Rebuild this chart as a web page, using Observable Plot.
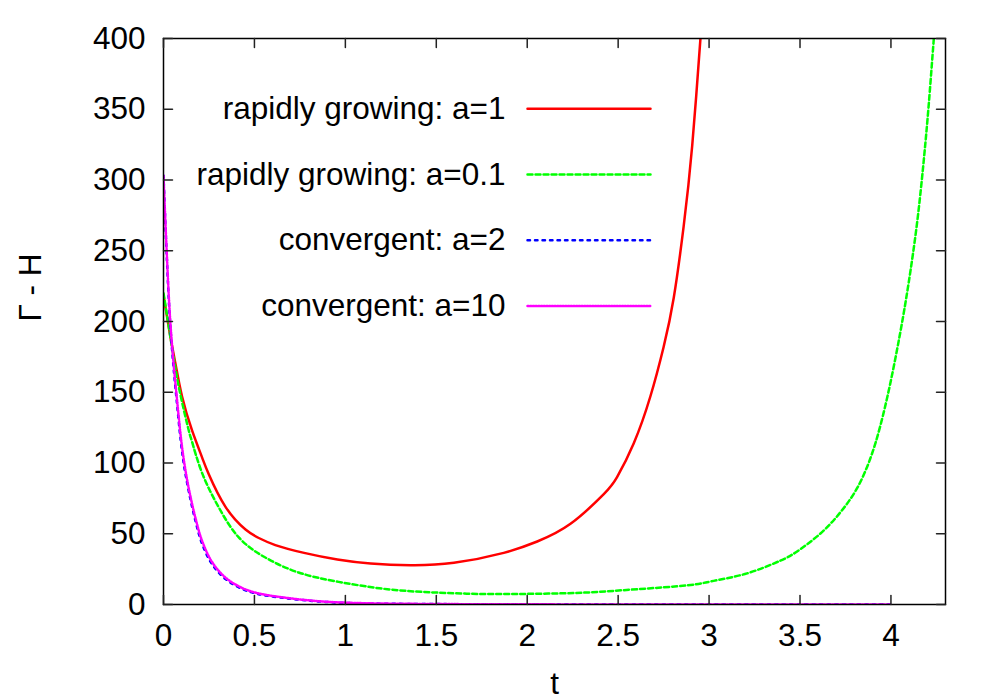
<!DOCTYPE html>
<html><head><meta charset="utf-8">
<script src="https://cdn.jsdelivr.net/npm/d3@7"></script>
<script src="https://cdn.jsdelivr.net/npm/@observablehq/plot@0.6"></script>
<style>body{margin:0;background:#fff;} #chart{width:1000px;height:700px;}</style>
</head><body><div id="chart"></div>
<script>
// ---- data ----
const seriesNames = ["rapidly growing: a=1", "rapidly growing: a=0.1", "convergent: a=2", "convergent: a=10"];
const seriesColors = ["#ff0000", "#00ff00", "#0000ff", "#ff00ff"];
const seriesDash = [null, "5,3", "2.5,5", "1.2,1.5"];
const seriesCurve = ["natural", "natural", "catmull-rom", "catmull-rom"];

const tRed = [0.002,0.038,0.066,0.102,0.157,0.212,0.249,0.341,0.451,0.524,0.615,0.773,0.956,1.139,1.359,1.597,1.871,2.055,2.238,2.421,2.494,2.586,2.677,2.75,2.806,2.86,2.907,2.952,2.98];
const yRed = [217,189,170,147,123,104,92,69,53,47,42,36.5,31.8,29,27.8,29.5,36.5,44.5,57,78,90,114,147,182,217,267,324,399,450];

const tGreen = [0,0.038,0.084,0.139,0.157,0.212,0.304,0.414,0.56,0.743,0.963,1.231,1.505,1.78,2.055,2.33,2.604,2.879,3.025,3.209,3.392,3.484,3.611,3.721,3.813,3.886,3.941,3.996,4.051,4.097,4.143,4.179,4.207,4.234,4.26];
const yGreen = [220,189,154,123,115,93,68.6,47.4,33.2,22.6,16,10.8,8.4,7.4,7.6,8.5,10.8,13.5,16.7,22,31,37.5,50,65,82,103,126,156,192,227,269,312,352,397,440];

const tBlue = [0,0.01,0.02,0.03,0.04,0.057,0.075,0.093,0.112,0.139,0.176,0.212,0.267,0.341,0.432,0.524,0.67,0.817,0.963,1.2,1.5,2,2.5,3,3.5,4];
const yBlue = [303,270,240,213,192,165,141,118,99,80,59,43,28.5,18,11,7.3,4.5,2.5,1.3,0.6,0.3,0.1,0.05,0.02,0.01,0.005];

const tMagenta = [0,0.01,0.02,0.03,0.04,0.057,0.075,0.093,0.112,0.139,0.176,0.212,0.267,0.341,0.432,0.524,0.67,0.817,0.963,1.2,1.5,2,2.5,3,3.5,4];
const yMagenta = [303,272,243,216,195,168,144,121,102,82,61,45,30,19,11.7,7.8,4.8,2.7,1.5,0.7,0.35,0.12,0.06,0.03,0.015,0.007];

const xTicks = [0,0.5,1,1.5,2,2.5,3,3.5,4];
const xTickLabels = ["0","0.5","1","1.5","2","2.5","3","3.5","4"];
const yTicks = [0,50,100,150,200,250,300,350,400];
const yTickLabels = ["0","50","100","150","200","250","300","350","400"];
const xLabel = "t";
const yLabel = "Γ - H";

// ---- build tidy rows ----
const seriesT = [tRed, tGreen, tBlue, tMagenta];
const seriesY = [yRed, yGreen, yBlue, yMagenta];
const rows = seriesT.map((ts, i) => ts.map((t, j) => ({t, v: seriesY[i][j], s: seriesNames[i]})));

const font = "Liberation Sans, Arial, Helvetica, sans-serif";
const fs = 31.5;
const lineShape = {draw(context, l) { context.moveTo(0, 0); context.lineTo(0, -l); }};
const tickStyle = {length: 9, anchor: "start", shape: lineShape, stroke: "#222", strokeWidth: 1.5};

const marks = [];
// curves
rows.forEach((r, i) => {
  marks.push(Plot.line(r, {x: "t", y: "v", stroke: seriesColors[i], strokeWidth: 2.5,
    strokeDasharray: seriesDash[i] ?? undefined, curve: seriesCurve[i], clip: true}));
});
// frame
marks.push(Plot.frame({stroke: "black", strokeWidth: 1.5}));
// inward ticks on all four sides
marks.push(Plot.vector(xTicks, {x: (d) => d, frameAnchor: "bottom", rotate: 0, ...tickStyle}));
marks.push(Plot.vector(xTicks, {x: (d) => d, frameAnchor: "top", rotate: 180, ...tickStyle}));
marks.push(Plot.vector(yTicks, {y: (d) => d, frameAnchor: "left", rotate: 90, ...tickStyle}));
marks.push(Plot.vector(yTicks, {y: (d) => d, frameAnchor: "right", rotate: 270, ...tickStyle}));
// tick labels
marks.push(Plot.axisX(xTicks, {anchor: "bottom", tickSize: 0, tickPadding: 19, label: null,
  tickFormat: (d) => xTickLabels[xTicks.indexOf(d)], fontSize: fs, fill: "black"}));
marks.push(Plot.axisY(yTicks, {anchor: "left", tickSize: 0, tickPadding: 18, label: null,
  tickFormat: (d) => yTickLabels[yTicks.indexOf(d)], fontSize: fs, fill: "black"}));
// axis titles
marks.push(Plot.text([xLabel], {text: (d) => d, frameAnchor: "bottom", lineAnchor: "middle", dy: 79, fontSize: fs, fill: "black"}));
marks.push(Plot.text([yLabel], {text: (d) => d, frameAnchor: "left", lineAnchor: "middle", dx: -133, rotate: -90, fontSize: fs, fill: "black"}));
// legend inside the plot (top-left region)
seriesNames.forEach((name, i) => {
  const dy = 70.3 + i * 65.7;
  marks.push(Plot.text([name], {text: (d) => d, frameAnchor: "top-left", lineAnchor: "middle", dx: 342, dy, textAnchor: "end", fontSize: fs, fill: "black"}));
  marks.push(Plot.vector([name], {frameAnchor: "top-left", dx: 364, dy, length: 123, rotate: 90, anchor: "start",
    shape: lineShape, stroke: seriesColors[i], strokeWidth: 2.5, strokeDasharray: seriesDash[i] ?? undefined}));
});

const chart = Plot.plot({
  width: 1000,
  height: 700,
  marginLeft: 163,
  marginRight: 55,
  marginTop: 38,
  marginBottom: 96,
  x: {domain: [0, 4.3], axis: null},
  y: {domain: [0, 400], axis: null},
  style: {fontFamily: font, fontSize: fs + "px", background: "white", color: "black"},
  marks
});
document.getElementById("chart").appendChild(chart);
</script>
</body></html>
